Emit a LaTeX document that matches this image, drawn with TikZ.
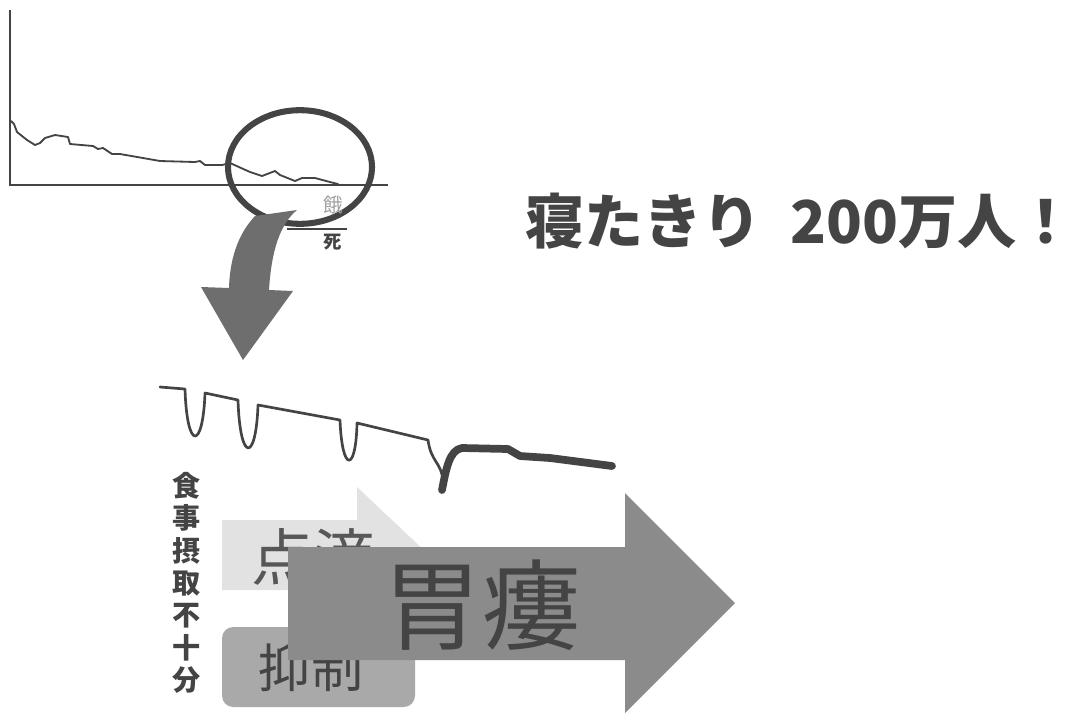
\documentclass[tikz,border=0pt]{standalone}
\usepackage{fontspec}
\newfontfamily\jp{Noto Sans CJK JP}
\definecolor{ink}{HTML}{444444}
\definecolor{bigarrow}{HTML}{8B8B8B}
\definecolor{lightarrow}{HTML}{E2E2E2}
\definecolor{boxgray}{HTML}{A9A9A9}
\definecolor{curvearrow}{HTML}{6E6E6E}
\definecolor{faint}{HTML}{A0A0A0}
\newcommand\fsz[1]{\fontsize{#1}{#1}\selectfont}
\tikzset{
  axisline/.style={draw=ink, line width=1.1pt},
  thincurve/.style={draw=ink, line width=1.3pt, line join=round, line cap=round},
  lowcurve/.style={draw=ink, line width=1.9pt, line join=round, line cap=round},
  thickcurve/.style={draw=ink, line width=5.5pt, line join=round, line cap=round},
  ring/.style={draw=ink, line width=4.3pt},
  jptext/.style={inner sep=0pt, outer sep=0pt, text=ink, font=\jp},
}
\begin{document}
\begin{tikzpicture}[x=0.025cm, y=-0.025cm]
\useasboundingbox[fill=white] (0,0) rectangle (1079,719);

% ---------- top chart ----------
\draw[axisline] (10,10) -- (10,185) -- (388,185);
\draw[thincurve] (11,121) -- (14,124) -- (17,132) -- (27,140) -- (35,145) -- (40,143) -- (45,138)
  -- (55,135) -- (68,137) -- (70,144) -- (93,146) -- (98,149) -- (103,148) -- (112,154)
  -- (120,154) -- (160,161) -- (195,162) -- (200,161) -- (205,165) -- (222,165) -- (230,163)
  -- (250,172) -- (262,176) -- (275,171) -- (280,175) -- (295,181) -- (302,178) -- (315,178)
  -- (330,182) -- (338,184);
\draw[ring] (300,167) ellipse [x radius=1.8cm, y radius=1.42cm];

% faint label and 死
\node[jptext, text=faint, font=\jp\fsz{14pt}] (ga) at (333,205) {餓};
\draw[ink, line width=1.6pt] (287,229) -- (347,229);
\node[jptext, font=\jp\bfseries\fsz{13pt}] (shi) at (333,242) {死};

% ---------- curved arrow ----------
\fill[curvearrow] (255,216) -- (297,210) .. controls (285,220) and (272,240) .. (269,290)
  -- (293,291) -- (243,360) -- (201,287) -- (229,288)
  .. controls (230,255) and (240,232) .. (255,216) -- cycle;

% ---------- title ----------
\node[jptext, font=\jp\bfseries\fsz{42pt}, anchor=west] (title) at (525,221) {寝たきり\hspace{0.5em}200万人！};

% ---------- lower chart ----------
\draw[lowcurve] (160,387) -- (185,389)
  .. controls (187,452) and (203,450) .. (205,393) -- (238,400)
  .. controls (240,463) and (256,463) .. (258,405) -- (340,420)
  .. controls (342,473) and (356,473) .. (357,423) -- (428,440)
  .. controls (431,462) and (441,462) .. (443,480);
\draw[thickcurve] (442,490) .. controls (446,470) and (449,450) .. (462,448)
  -- (508,449) -- (520,456) -- (550,458) -- (612,466);

% ---------- vertical text ----------
\node[jptext, font=\jp\bfseries\fsz{20pt}, align=center] (vtext) at (187,583)
  {食\\[3pt]事\\[3pt]摂\\[3pt]取\\[3pt]不\\[3pt]十\\[3pt]分};

% ---------- 点滴 light arrow ----------
\fill[lightarrow] (222,520) -- (357,520) -- (357,487) -- (429,555) -- (357,623) -- (357,590) -- (222,590) -- cycle;
\node[jptext, text=ink!90, font=\jp\fsz{44pt}] (tenteki) at (313,557) {点滴};

% ---------- 抑制 box ----------
\fill[boxgray, rounded corners=8pt] (222,627) rectangle (415,707);
\node[jptext, font=\jp\fsz{37pt}] (yokusei) at (311,668) {抑制};

% ---------- 胃瘻 big arrow ----------
\fill[bigarrow] (288,547) -- (625,547) -- (625,493) -- (735,603) -- (625,713) -- (625,660) -- (288,660) -- cycle;
\node[jptext, font=\jp\fsz{70pt}] (irou) at (482,605) {胃瘻};
\end{tikzpicture}
\end{document}
